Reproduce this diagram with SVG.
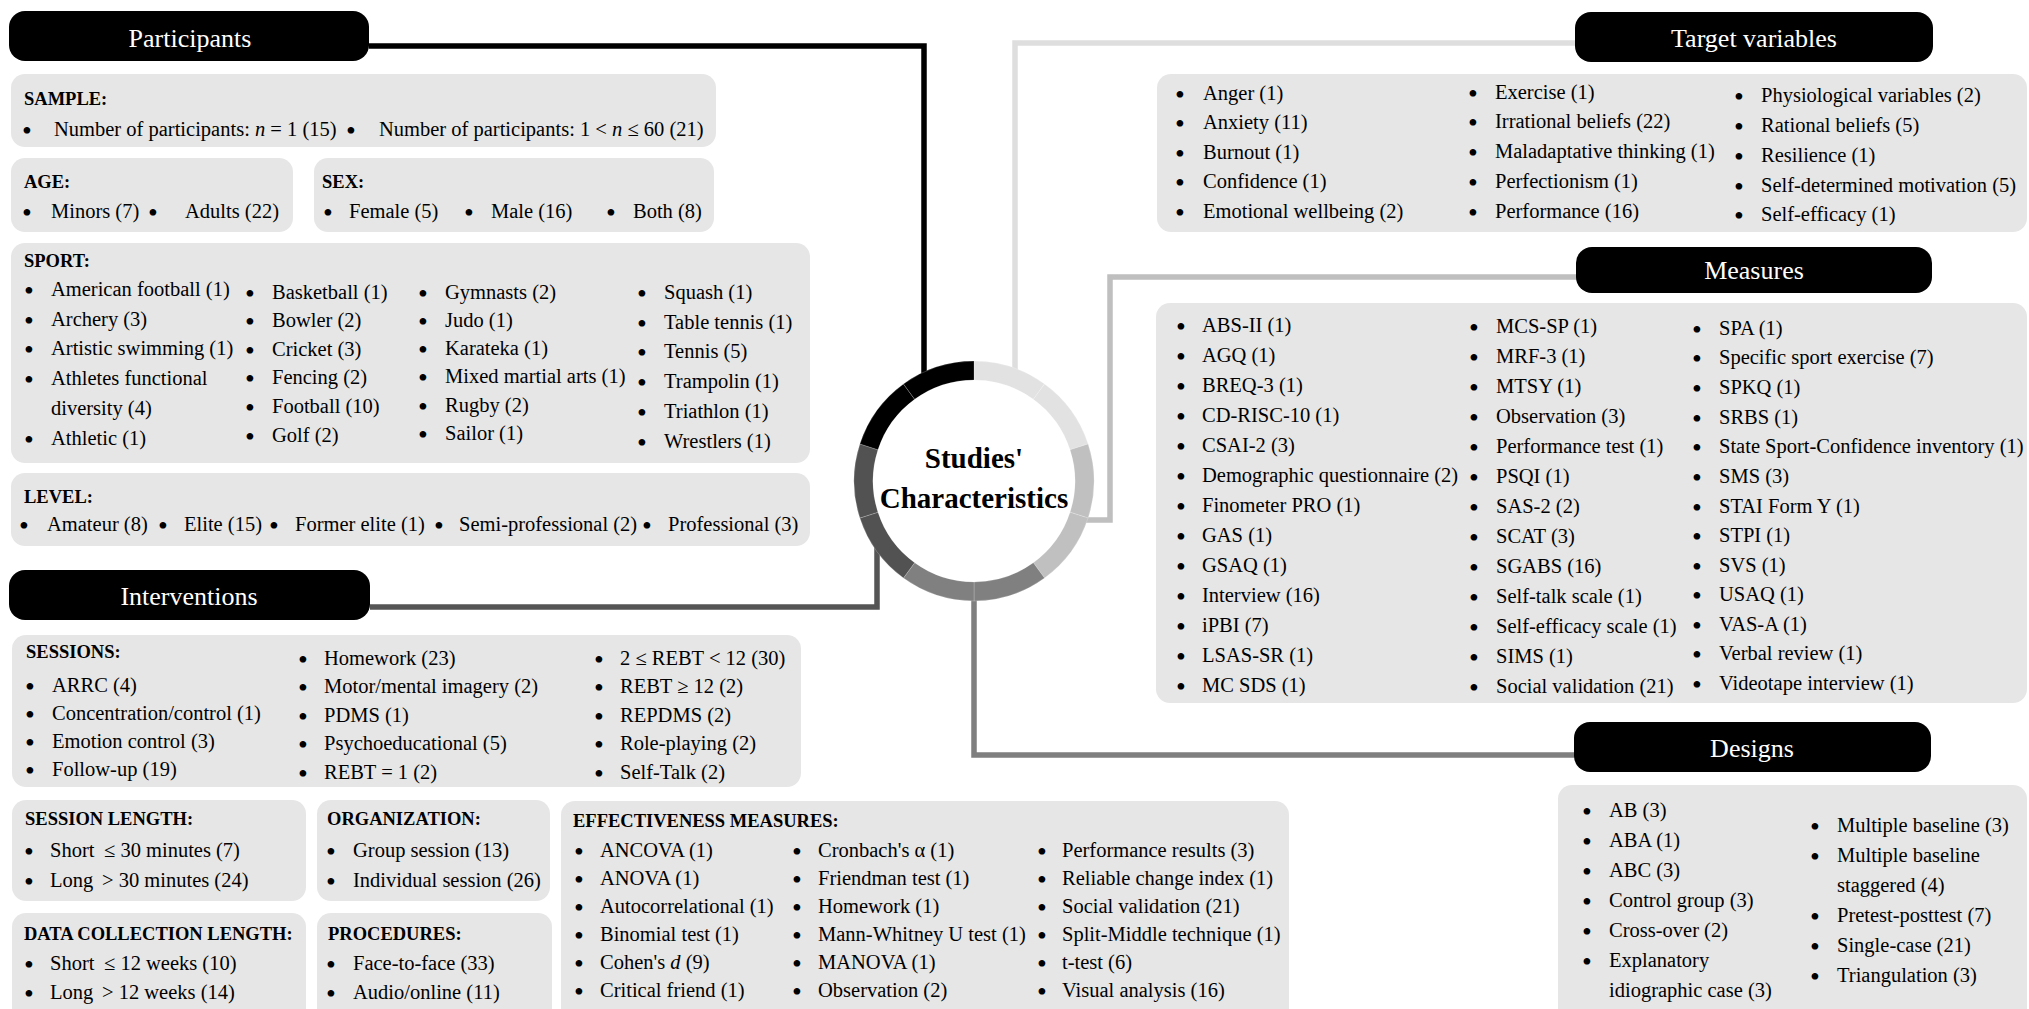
<svg xmlns="http://www.w3.org/2000/svg" width="2029" height="1009" viewBox="0 0 2029 1009">
<style>
.bg{fill:#ffffff}
.box{fill:#e6e6e6}
.hdr{fill:#000000}
.ht{font-family:"Liberation Serif","Times New Roman",serif;font-size:26px;fill:#ffffff;text-anchor:middle}
.t{font-family:"Liberation Serif","Times New Roman",serif;font-size:20.5px;fill:#000000}
.bu{font-size:28px;baseline-shift:-3.5px}
.b{font-family:"Liberation Serif","Times New Roman",serif;font-size:18.5px;font-weight:bold;fill:#000000}
.ct{font-family:"Liberation Serif","Times New Roman",serif;font-size:29px;font-weight:bold;fill:#000000;text-anchor:middle}
.ln{fill:none;stroke-width:5.5;stroke-linejoin:miter;stroke-linecap:butt}
.seg{stroke:#ffffff;stroke-opacity:0.25;stroke-width:0.8}
</style>
<rect class="bg" x="0" y="0" width="2029" height="1009"/>

<g id="connectors">
<path class="ln" stroke="#000000" d="M369 46 H924 V378"/>
<path class="ln" stroke="#dedede" d="M1577 43 H1015 V374"/>
<path class="ln" stroke="#bfbfbf" d="M1577 277 H1110 V520 H1084"/>
<path class="ln" stroke="#7f7f7f" d="M974 588 V755 H1576"/>
<path class="ln" stroke="#555555" d="M370 607 H877 V528"/>
</g>

<g id="node-center">
<path class="seg" fill="#e2e2e2" d="M974 361 A120 120 0 0 1 1044.54 383.92 L1033.37 399.29 A101 101 0 0 0 974 380 Z"/>
<path class="seg" fill="#e2e2e2" d="M1044.54 383.92 A120 120 0 0 1 1088.13 443.92 L1070.06 449.79 A101 101 0 0 0 1033.37 399.29 Z"/>
<path class="seg" fill="#c0c0c0" d="M1088.13 443.92 A120 120 0 0 1 1088.13 518.08 L1070.06 512.21 A101 101 0 0 0 1070.06 449.79 Z"/>
<path class="seg" fill="#c0c0c0" d="M1088.13 518.08 A120 120 0 0 1 1044.54 578.08 L1033.37 562.71 A101 101 0 0 0 1070.06 512.21 Z"/>
<path class="seg" fill="#808080" d="M1044.54 578.08 A120 120 0 0 1 974 601 L974 582 A101 101 0 0 0 1033.37 562.71 Z"/>
<path class="seg" fill="#808080" d="M974 601 A120 120 0 0 1 903.46 578.08 L914.63 562.71 A101 101 0 0 0 974 582 Z"/>
<path class="seg" fill="#525252" d="M903.46 578.08 A120 120 0 0 1 859.87 518.08 L877.94 512.21 A101 101 0 0 0 914.63 562.71 Z"/>
<path class="seg" fill="#525252" d="M859.87 518.08 A120 120 0 0 1 859.87 443.92 L877.94 449.79 A101 101 0 0 0 877.94 512.21 Z"/>
<path class="seg" fill="#000000" d="M859.87 443.92 A120 120 0 0 1 903.46 383.92 L914.63 399.29 A101 101 0 0 0 877.94 449.79 Z"/>
<path class="seg" fill="#000000" d="M903.46 383.92 A120 120 0 0 1 974 361 L974 380 A101 101 0 0 0 914.63 399.29 Z"/>
<text class="ct" x="974" y="468">Studies'</text>
<text class="ct" x="974" y="508">Characteristics</text>
</g>

<g id="node-participants">
<rect class="hdr" x="9" y="11" width="360" height="50" rx="16"/>
<text class="ht" x="190" y="47">Participants</text>
</g>

<g id="node-sample">
<rect class="box" x="11" y="74" width="705" height="73" rx="14"/>
<text class="b" x="24" y="105">SAMPLE:</text>
<text class="t" y="136"><tspan class="bu" x="22.1">•</tspan><tspan x="54">Number of participants: </tspan><tspan font-style="italic">n</tspan><tspan> = 1 (15)</tspan></text>
<text class="t" y="136"><tspan class="bu" x="346.1">•</tspan><tspan x="379">Number of participants: 1 &lt; </tspan><tspan font-style="italic">n</tspan><tspan> ≤ 60 (21)</tspan></text>
</g>

<g id="node-age">
<rect class="box" x="11" y="158" width="282" height="74" rx="14"/>
<text class="b" x="24" y="188">AGE:</text>
<text class="t" y="218"><tspan class="bu" x="22.1">•</tspan><tspan x="51">Minors (7)</tspan><tspan class="bu" x="148.1">•</tspan><tspan x="185">Adults (22)</tspan></text>
</g>

<g id="node-sex">
<rect class="box" x="314" y="158" width="400" height="74" rx="14"/>
<text class="b" x="322" y="188">SEX:</text>
<text class="t" y="218"><tspan class="bu" x="323.1">•</tspan><tspan x="349">Female (5)</tspan><tspan class="bu" x="464.1">•</tspan><tspan x="491">Male (16)</tspan><tspan class="bu" x="606.1">•</tspan><tspan x="633">Both (8)</tspan></text>
</g>

<g id="node-sport">
<rect class="box" x="11" y="243" width="799" height="220" rx="14"/>
<text class="b" x="24" y="267">SPORT:</text>
<text class="t" y="296"><tspan class="bu" x="24.1">•</tspan><tspan x="51">American football (1)</tspan></text>
<text class="t" y="326"><tspan class="bu" x="24.1">•</tspan><tspan x="51">Archery (3)</tspan></text>
<text class="t" y="355"><tspan class="bu" x="24.1">•</tspan><tspan x="51">Artistic swimming (1)</tspan></text>
<text class="t" y="385"><tspan class="bu" x="24.1">•</tspan><tspan x="51">Athletes functional</tspan></text>
<text class="t" x="51" y="415">diversity (4)</text>
<text class="t" y="445"><tspan class="bu" x="24.1">•</tspan><tspan x="51">Athletic (1)</tspan></text>
<text class="t" y="299"><tspan class="bu" x="245.1">•</tspan><tspan x="272">Basketball (1)</tspan></text>
<text class="t" y="327"><tspan class="bu" x="245.1">•</tspan><tspan x="272">Bowler (2)</tspan></text>
<text class="t" y="356"><tspan class="bu" x="245.1">•</tspan><tspan x="272">Cricket (3)</tspan></text>
<text class="t" y="384"><tspan class="bu" x="245.1">•</tspan><tspan x="272">Fencing (2)</tspan></text>
<text class="t" y="413"><tspan class="bu" x="245.1">•</tspan><tspan x="272">Football (10)</tspan></text>
<text class="t" y="442"><tspan class="bu" x="245.1">•</tspan><tspan x="272">Golf (2)</tspan></text>
<text class="t" y="299"><tspan class="bu" x="418.1">•</tspan><tspan x="445">Gymnasts (2)</tspan></text>
<text class="t" y="327"><tspan class="bu" x="418.1">•</tspan><tspan x="445">Judo (1)</tspan></text>
<text class="t" y="355"><tspan class="bu" x="418.1">•</tspan><tspan x="445">Karateka (1)</tspan></text>
<text class="t" y="383"><tspan class="bu" x="418.1">•</tspan><tspan x="445">Mixed martial arts (1)</tspan></text>
<text class="t" y="412"><tspan class="bu" x="418.1">•</tspan><tspan x="445">Rugby (2)</tspan></text>
<text class="t" y="440"><tspan class="bu" x="418.1">•</tspan><tspan x="445">Sailor (1)</tspan></text>
<text class="t" y="299"><tspan class="bu" x="637.1">•</tspan><tspan x="664">Squash (1)</tspan></text>
<text class="t" y="329"><tspan class="bu" x="637.1">•</tspan><tspan x="664">Table tennis (1)</tspan></text>
<text class="t" y="358"><tspan class="bu" x="637.1">•</tspan><tspan x="664">Tennis (5)</tspan></text>
<text class="t" y="388"><tspan class="bu" x="637.1">•</tspan><tspan x="664">Trampolin (1)</tspan></text>
<text class="t" y="418"><tspan class="bu" x="637.1">•</tspan><tspan x="664">Triathlon (1)</tspan></text>
<text class="t" y="448"><tspan class="bu" x="637.1">•</tspan><tspan x="664">Wrestlers (1)</tspan></text>
</g>

<g id="node-level">
<rect class="box" x="11" y="473" width="799" height="73" rx="14"/>
<text class="b" x="24" y="503">LEVEL:</text>
<text class="t" y="531"><tspan class="bu" x="19.1">•</tspan><tspan x="47">Amateur (8)</tspan><tspan class="bu" x="158.1">•</tspan><tspan x="184">Elite (15)</tspan><tspan class="bu" x="269.1">•</tspan><tspan x="295">Former elite (1)</tspan><tspan class="bu" x="434.1">•</tspan><tspan x="459">Semi-professional (2)</tspan><tspan class="bu" x="642.1">•</tspan><tspan x="668">Professional (3)</tspan></text>
</g>

<g id="node-interventions">
<rect class="hdr" x="9" y="570" width="361" height="50" rx="16"/>
<text class="ht" x="189" y="605">Interventions</text>
</g>

<g id="node-sessions">
<rect class="box" x="12" y="635" width="789" height="152" rx="14"/>
<text class="b" x="26" y="658">SESSIONS:</text>
<text class="t" y="692"><tspan class="bu" x="25.1">•</tspan><tspan x="52">ARRC (4)</tspan></text>
<text class="t" y="720"><tspan class="bu" x="25.1">•</tspan><tspan x="52">Concentration/control (1)</tspan></text>
<text class="t" y="748"><tspan class="bu" x="25.1">•</tspan><tspan x="52">Emotion control (3)</tspan></text>
<text class="t" y="776"><tspan class="bu" x="25.1">•</tspan><tspan x="52">Follow-up (19)</tspan></text>
<text class="t" y="665"><tspan class="bu" x="298.1">•</tspan><tspan x="324">Homework (23)</tspan></text>
<text class="t" y="693"><tspan class="bu" x="298.1">•</tspan><tspan x="324">Motor/mental imagery (2)</tspan></text>
<text class="t" y="722"><tspan class="bu" x="298.1">•</tspan><tspan x="324">PDMS (1)</tspan></text>
<text class="t" y="750"><tspan class="bu" x="298.1">•</tspan><tspan x="324">Psychoeducational (5)</tspan></text>
<text class="t" y="779"><tspan class="bu" x="298.1">•</tspan><tspan x="324">REBT = 1 (2)</tspan></text>
<text class="t" y="665"><tspan class="bu" x="594.1">•</tspan><tspan x="620">2 ≤ REBT &lt; 12 (30)</tspan></text>
<text class="t" y="693"><tspan class="bu" x="594.1">•</tspan><tspan x="620">REBT ≥ 12 (2)</tspan></text>
<text class="t" y="722"><tspan class="bu" x="594.1">•</tspan><tspan x="620">REPDMS (2)</tspan></text>
<text class="t" y="750"><tspan class="bu" x="594.1">•</tspan><tspan x="620">Role-playing (2)</tspan></text>
<text class="t" y="779"><tspan class="bu" x="594.1">•</tspan><tspan x="620">Self-Talk (2)</tspan></text>
</g>

<g id="node-session-length">
<rect class="box" x="12" y="800" width="294" height="101" rx="14"/>
<text class="b" x="25" y="825">SESSION LENGTH:</text>
<text class="t" y="857"><tspan class="bu" x="24.1">•</tspan><tspan x="50">Short</tspan><tspan x="104">≤ 30 minutes (7)</tspan></text>
<text class="t" y="887"><tspan class="bu" x="24.1">•</tspan><tspan x="50">Long</tspan><tspan x="102">&gt; 30 minutes (24)</tspan></text>
</g>

<g id="node-organization">
<rect class="box" x="317" y="800" width="233" height="101" rx="14"/>
<text class="b" x="327" y="825">ORGANIZATION:</text>
<text class="t" y="857"><tspan class="bu" x="326.1">•</tspan><tspan x="353">Group session (13)</tspan></text>
<text class="t" y="887"><tspan class="bu" x="326.1">•</tspan><tspan x="353">Individual session (26)</tspan></text>
</g>

<g id="node-data-collection">
<rect class="box" x="12" y="913" width="294" height="110" rx="14"/>
<text class="b" x="24" y="940">DATA COLLECTION LENGTH:</text>
<text class="t" y="970"><tspan class="bu" x="24.1">•</tspan><tspan x="50">Short</tspan><tspan x="104">≤ 12 weeks (10)</tspan></text>
<text class="t" y="999"><tspan class="bu" x="24.1">•</tspan><tspan x="50">Long</tspan><tspan x="102">&gt; 12 weeks (14)</tspan></text>
</g>

<g id="node-procedures">
<rect class="box" x="317" y="913" width="235" height="110" rx="14"/>
<text class="b" x="328" y="940">PROCEDURES:</text>
<text class="t" y="970"><tspan class="bu" x="326.1">•</tspan><tspan x="353">Face-to-face (33)</tspan></text>
<text class="t" y="999"><tspan class="bu" x="326.1">•</tspan><tspan x="353">Audio/online (11)</tspan></text>
</g>

<g id="node-effectiveness">
<rect class="box" x="561" y="801" width="728" height="222" rx="14"/>
<text class="b" x="573" y="827">EFFECTIVENESS MEASURES:</text>
<text class="t" y="857"><tspan class="bu" x="574.1">•</tspan><tspan x="600">ANCOVA (1)</tspan></text>
<text class="t" y="885"><tspan class="bu" x="574.1">•</tspan><tspan x="600">ANOVA (1)</tspan></text>
<text class="t" y="913"><tspan class="bu" x="574.1">•</tspan><tspan x="600">Autocorrelational (1)</tspan></text>
<text class="t" y="941"><tspan class="bu" x="574.1">•</tspan><tspan x="600">Binomial test (1)</tspan></text>
<text class="t" y="969"><tspan class="bu" x="574.1">•</tspan><tspan x="600">Cohen's </tspan><tspan font-style="italic">d</tspan><tspan> (9)</tspan></text>
<text class="t" y="997"><tspan class="bu" x="574.1">•</tspan><tspan x="600">Critical friend (1)</tspan></text>
<text class="t" y="857"><tspan class="bu" x="792.1">•</tspan><tspan x="818">Cronbach's α (1)</tspan></text>
<text class="t" y="885"><tspan class="bu" x="792.1">•</tspan><tspan x="818">Friendman test (1)</tspan></text>
<text class="t" y="913"><tspan class="bu" x="792.1">•</tspan><tspan x="818">Homework (1)</tspan></text>
<text class="t" y="941"><tspan class="bu" x="792.1">•</tspan><tspan x="818">Mann-Whitney U test (1)</tspan></text>
<text class="t" y="969"><tspan class="bu" x="792.1">•</tspan><tspan x="818">MANOVA (1)</tspan></text>
<text class="t" y="997"><tspan class="bu" x="792.1">•</tspan><tspan x="818">Observation (2)</tspan></text>
<text class="t" y="857"><tspan class="bu" x="1037.1">•</tspan><tspan x="1062">Performance results (3)</tspan></text>
<text class="t" y="885"><tspan class="bu" x="1037.1">•</tspan><tspan x="1062">Reliable change index (1)</tspan></text>
<text class="t" y="913"><tspan class="bu" x="1037.1">•</tspan><tspan x="1062">Social validation (21)</tspan></text>
<text class="t" y="941"><tspan class="bu" x="1037.1">•</tspan><tspan x="1062">Split-Middle technique (1)</tspan></text>
<text class="t" y="969"><tspan class="bu" x="1037.1">•</tspan><tspan x="1062">t-test (6)</tspan></text>
<text class="t" y="997"><tspan class="bu" x="1037.1">•</tspan><tspan x="1062">Visual analysis (16)</tspan></text>
</g>

<g id="node-target-variables">
<rect class="hdr" x="1575" y="12" width="358" height="50" rx="16"/>
<text class="ht" x="1754" y="47">Target variables</text>
</g>

<g id="node-target-list">
<rect class="box" x="1157" y="74" width="870" height="158" rx="14"/>
<text class="t" y="100"><tspan class="bu" x="1175.1">•</tspan><tspan x="1203">Anger (1)</tspan></text>
<text class="t" y="129"><tspan class="bu" x="1175.1">•</tspan><tspan x="1203">Anxiety (11)</tspan></text>
<text class="t" y="159"><tspan class="bu" x="1175.1">•</tspan><tspan x="1203">Burnout (1)</tspan></text>
<text class="t" y="188"><tspan class="bu" x="1175.1">•</tspan><tspan x="1203">Confidence (1)</tspan></text>
<text class="t" y="218"><tspan class="bu" x="1175.1">•</tspan><tspan x="1203">Emotional wellbeing (2)</tspan></text>
<text class="t" y="99"><tspan class="bu" x="1468.1">•</tspan><tspan x="1495">Exercise (1)</tspan></text>
<text class="t" y="128"><tspan class="bu" x="1468.1">•</tspan><tspan x="1495">Irrational beliefs (22)</tspan></text>
<text class="t" y="158"><tspan class="bu" x="1468.1">•</tspan><tspan x="1495">Maladaptative thinking (1)</tspan></text>
<text class="t" y="188"><tspan class="bu" x="1468.1">•</tspan><tspan x="1495">Perfectionism (1)</tspan></text>
<text class="t" y="218"><tspan class="bu" x="1468.1">•</tspan><tspan x="1495">Performance (16)</tspan></text>
<text class="t" y="102"><tspan class="bu" x="1734.1">•</tspan><tspan x="1761">Physiological variables (2)</tspan></text>
<text class="t" y="132"><tspan class="bu" x="1734.1">•</tspan><tspan x="1761">Rational beliefs (5)</tspan></text>
<text class="t" y="162"><tspan class="bu" x="1734.1">•</tspan><tspan x="1761">Resilience (1)</tspan></text>
<text class="t" y="192"><tspan class="bu" x="1734.1">•</tspan><tspan x="1761">Self-determined motivation (5)</tspan></text>
<text class="t" y="221"><tspan class="bu" x="1734.1">•</tspan><tspan x="1761">Self-efficacy (1)</tspan></text>
</g>

<g id="node-measures">
<rect class="hdr" x="1576" y="247" width="356" height="46" rx="16"/>
<text class="ht" x="1754" y="279">Measures</text>
</g>

<g id="node-measures-list">
<rect class="box" x="1156" y="303" width="871" height="400" rx="14"/>
<text class="t" y="332"><tspan class="bu" x="1176.1">•</tspan><tspan x="1202">ABS-II (1)</tspan></text>
<text class="t" y="362"><tspan class="bu" x="1176.1">•</tspan><tspan x="1202">AGQ (1)</tspan></text>
<text class="t" y="392"><tspan class="bu" x="1176.1">•</tspan><tspan x="1202">BREQ-3 (1)</tspan></text>
<text class="t" y="422"><tspan class="bu" x="1176.1">•</tspan><tspan x="1202">CD-RISC-10 (1)</tspan></text>
<text class="t" y="452"><tspan class="bu" x="1176.1">•</tspan><tspan x="1202">CSAI-2 (3)</tspan></text>
<text class="t" y="482"><tspan class="bu" x="1176.1">•</tspan><tspan x="1202">Demographic questionnaire (2)</tspan></text>
<text class="t" y="512"><tspan class="bu" x="1176.1">•</tspan><tspan x="1202">Finometer PRO (1)</tspan></text>
<text class="t" y="542"><tspan class="bu" x="1176.1">•</tspan><tspan x="1202">GAS (1)</tspan></text>
<text class="t" y="572"><tspan class="bu" x="1176.1">•</tspan><tspan x="1202">GSAQ (1)</tspan></text>
<text class="t" y="602"><tspan class="bu" x="1176.1">•</tspan><tspan x="1202">Interview (16)</tspan></text>
<text class="t" y="632"><tspan class="bu" x="1176.1">•</tspan><tspan x="1202">iPBI (7)</tspan></text>
<text class="t" y="662"><tspan class="bu" x="1176.1">•</tspan><tspan x="1202">LSAS-SR (1)</tspan></text>
<text class="t" y="692"><tspan class="bu" x="1176.1">•</tspan><tspan x="1202">MC SDS (1)</tspan></text>
<text class="t" y="333"><tspan class="bu" x="1469.1">•</tspan><tspan x="1496">MCS-SP (1)</tspan></text>
<text class="t" y="363"><tspan class="bu" x="1469.1">•</tspan><tspan x="1496">MRF-3 (1)</tspan></text>
<text class="t" y="393"><tspan class="bu" x="1469.1">•</tspan><tspan x="1496">MTSY (1)</tspan></text>
<text class="t" y="423"><tspan class="bu" x="1469.1">•</tspan><tspan x="1496">Observation (3)</tspan></text>
<text class="t" y="453"><tspan class="bu" x="1469.1">•</tspan><tspan x="1496">Performance test (1)</tspan></text>
<text class="t" y="483"><tspan class="bu" x="1469.1">•</tspan><tspan x="1496">PSQI (1)</tspan></text>
<text class="t" y="513"><tspan class="bu" x="1469.1">•</tspan><tspan x="1496">SAS-2 (2)</tspan></text>
<text class="t" y="543"><tspan class="bu" x="1469.1">•</tspan><tspan x="1496">SCAT (3)</tspan></text>
<text class="t" y="573"><tspan class="bu" x="1469.1">•</tspan><tspan x="1496">SGABS (16)</tspan></text>
<text class="t" y="603"><tspan class="bu" x="1469.1">•</tspan><tspan x="1496">Self-talk scale (1)</tspan></text>
<text class="t" y="633"><tspan class="bu" x="1469.1">•</tspan><tspan x="1496">Self-efficacy scale (1)</tspan></text>
<text class="t" y="663"><tspan class="bu" x="1469.1">•</tspan><tspan x="1496">SIMS (1)</tspan></text>
<text class="t" y="693"><tspan class="bu" x="1469.1">•</tspan><tspan x="1496">Social validation (21)</tspan></text>
<text class="t" y="335"><tspan class="bu" x="1692.1">•</tspan><tspan x="1719">SPA (1)</tspan></text>
<text class="t" y="364"><tspan class="bu" x="1692.1">•</tspan><tspan x="1719">Specific sport exercise (7)</tspan></text>
<text class="t" y="394"><tspan class="bu" x="1692.1">•</tspan><tspan x="1719">SPKQ (1)</tspan></text>
<text class="t" y="424"><tspan class="bu" x="1692.1">•</tspan><tspan x="1719">SRBS (1)</tspan></text>
<text class="t" y="453"><tspan class="bu" x="1692.1">•</tspan><tspan x="1719">State Sport-Confidence inventory (1)</tspan></text>
<text class="t" y="483"><tspan class="bu" x="1692.1">•</tspan><tspan x="1719">SMS (3)</tspan></text>
<text class="t" y="513"><tspan class="bu" x="1692.1">•</tspan><tspan x="1719">STAI Form Y (1)</tspan></text>
<text class="t" y="542"><tspan class="bu" x="1692.1">•</tspan><tspan x="1719">STPI (1)</tspan></text>
<text class="t" y="572"><tspan class="bu" x="1692.1">•</tspan><tspan x="1719">SVS (1)</tspan></text>
<text class="t" y="601"><tspan class="bu" x="1692.1">•</tspan><tspan x="1719">USAQ (1)</tspan></text>
<text class="t" y="631"><tspan class="bu" x="1692.1">•</tspan><tspan x="1719">VAS-A (1)</tspan></text>
<text class="t" y="660"><tspan class="bu" x="1692.1">•</tspan><tspan x="1719">Verbal review (1)</tspan></text>
<text class="t" y="690"><tspan class="bu" x="1692.1">•</tspan><tspan x="1719">Videotape interview (1)</tspan></text>
</g>

<g id="node-designs">
<rect class="hdr" x="1574" y="722" width="357" height="50" rx="16"/>
<text class="ht" x="1752" y="757">Designs</text>
</g>

<g id="node-designs-list">
<rect class="box" x="1558" y="785" width="469" height="240" rx="14"/>
<text class="t" y="817"><tspan class="bu" x="1582.1">•</tspan><tspan x="1609">AB (3)</tspan></text>
<text class="t" y="847"><tspan class="bu" x="1582.1">•</tspan><tspan x="1609">ABA (1)</tspan></text>
<text class="t" y="877"><tspan class="bu" x="1582.1">•</tspan><tspan x="1609">ABC (3)</tspan></text>
<text class="t" y="907"><tspan class="bu" x="1582.1">•</tspan><tspan x="1609">Control group (3)</tspan></text>
<text class="t" y="937"><tspan class="bu" x="1582.1">•</tspan><tspan x="1609">Cross-over (2)</tspan></text>
<text class="t" y="967"><tspan class="bu" x="1582.1">•</tspan><tspan x="1609">Explanatory</tspan></text>
<text class="t" x="1609" y="997">idiographic case (3)</text>
<text class="t" y="832"><tspan class="bu" x="1810.1">•</tspan><tspan x="1837">Multiple baseline (3)</tspan></text>
<text class="t" y="862"><tspan class="bu" x="1810.1">•</tspan><tspan x="1837">Multiple baseline</tspan></text>
<text class="t" x="1837" y="892">staggered (4)</text>
<text class="t" y="922"><tspan class="bu" x="1810.1">•</tspan><tspan x="1837">Pretest-posttest (7)</tspan></text>
<text class="t" y="952"><tspan class="bu" x="1810.1">•</tspan><tspan x="1837">Single-case (21)</tspan></text>
<text class="t" y="982"><tspan class="bu" x="1810.1">•</tspan><tspan x="1837">Triangulation (3)</tspan></text>
</g>
</svg>
